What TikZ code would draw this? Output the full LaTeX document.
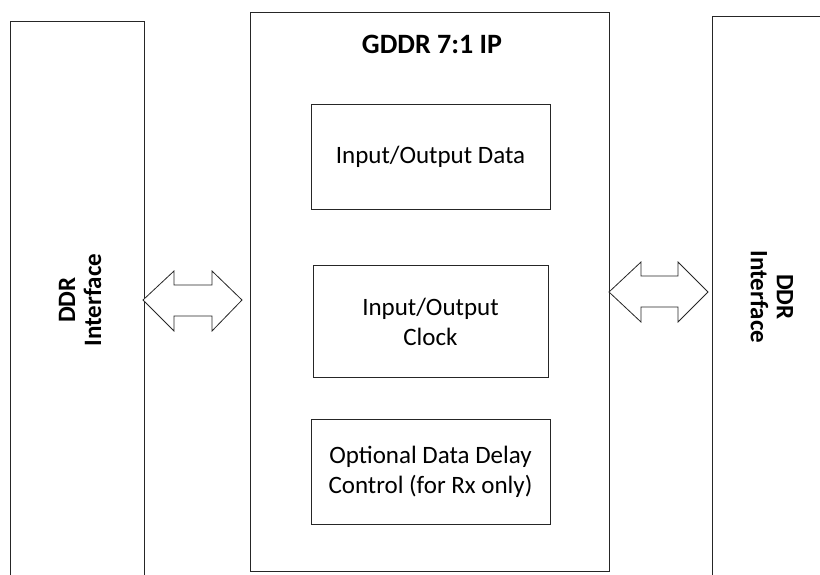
\documentclass[tikz,border=0pt]{standalone}
\usepackage{fontspec}
\setmainfont{Carlito}
\begin{document}
\begin{tikzpicture}[x=1pt,y=-1pt,
  frame/.style={draw=black!85,line width=1pt},
  blk/.style={frame,align=center,font=\fontsize{25}{30}\selectfont},
  side/.style={align=center,font=\bfseries\fontsize{25}{26}\selectfont},
  bidir/.style={draw=black!85,line width=0.8pt,fill=white,line join=miter}]
\useasboundingbox (0,0) rectangle (820,574);
\clip (0,0) rectangle (820,574);

% outer interface panels (run off the page edge)
\draw[frame] (10,580) -- (10,21) -- (144,21) -- (144,580);
\draw[frame] (712,580) -- (712,16) -- (830,16);
\node[side,rotate=90] (ddrL) at (80,300) {DDR\\Interface};
\node[side,rotate=-90] (ddrR) at (772,297) {DDR\\Interface};

% central IP block
\draw[frame] (250,12) rectangle (609,571);
\node[font=\bfseries\fontsize{28}{30}\selectfont] (title) at (432,44) {GDDR 7:1 IP};

\node[blk,minimum width=239pt,minimum height=105pt] (data) at (430.5,156.5) {Input/Output Data};
\node[blk,minimum width=235pt,minimum height=112pt] (clk) at (430.5,321.5) {Input/Output\\Clock};
\node[blk,minimum width=239pt,minimum height=105pt] (dly) at (430.5,471.5) {Optional Data Delay\\Control (for Rx only)};

% bidirectional block arrows
\draw[bidir] (143,300) -- (174,271) -- (174,285) -- (212,285) -- (212,271) -- (242,300)
  -- (212,331) -- (212,316) -- (174,316) -- (174,331) -- cycle;
\draw[bidir] (609,292) -- (641,262) -- (641,276) -- (678,276) -- (678,262) -- (708,292)
  -- (678,322) -- (678,307) -- (641,307) -- (641,322) -- cycle;
\end{tikzpicture}
\end{document}
